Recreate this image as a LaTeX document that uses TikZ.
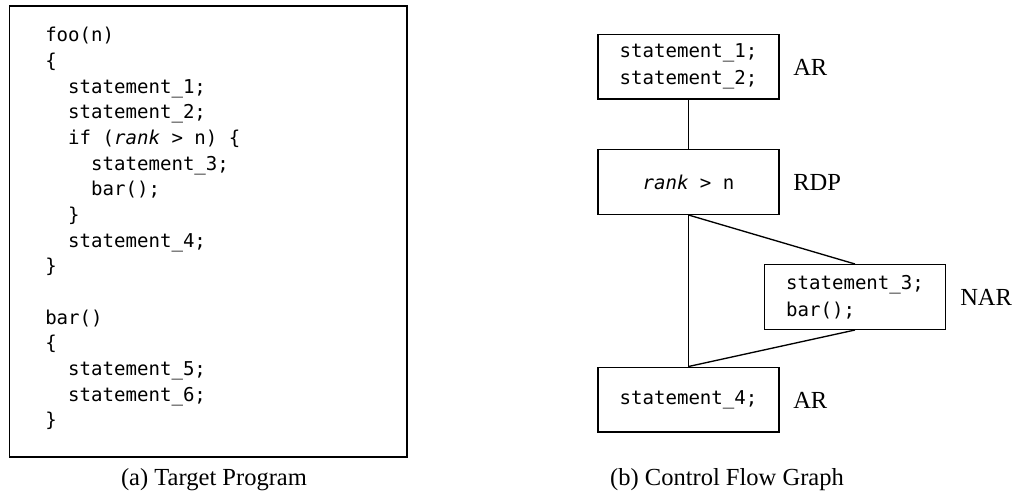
\documentclass[tikz,border=0pt]{standalone}
\usepackage{fontspec}
\setmainfont{Liberation Serif}
\setmonofont{DejaVu Sans Mono}
\begin{document}
\begin{tikzpicture}[x=0.75pt,y=-0.75pt,
 code/.style={anchor=base west, inner sep=0pt, font=\fontsize{14.3}{17}\ttfamily},
 blk/.style={draw, line width=1pt, minimum width=135.75pt, minimum height=48.5pt, inner sep=0pt, align=left, font=\fontsize{14.3}{20.25}\ttfamily},
 lbl/.style={anchor=west, inner sep=0pt, font=\fontsize{18.4}{22}\selectfont},
 captext/.style={inner sep=0pt, font=\fontsize{18.4}{22}\selectfont},
 edge/.style={line width=1pt}]
\useasboundingbox (0,0) rectangle (1016,493);
% left program box
\node[draw, line width=1.3pt, minimum width=298.1pt, minimum height=338.25pt, inner sep=0pt] (prog) at (208.25,231.5) {};
\node[code] (c0) at (45,41.7) {foo(n)};
\node[code] (c1) at (45,67.3) {\{};
\node[code] (c2) at (45,93) {\phantom{xx}statement\_1;};
\node[code] (c3) at (45,118.7) {\phantom{xx}statement\_2;};
\node[code] (c4) at (45,144.4) {\phantom{xx}if (\textit{rank} > n) \{};
\node[code] (c5) at (45,170) {\phantom{xxxx}statement\_3;};
\node[code] (c6) at (45,195.7) {\phantom{xxxx}bar();};
\node[code] (c7) at (45,221.4) {\phantom{xx}\}};
\node[code] (c8) at (45,247.1) {\phantom{xx}statement\_4;};
\node[code] (c9) at (45,272.7) {\}};
\node[code] (c11) at (45,324.1) {bar()};
\node[code] (c12) at (45,349.7) {\{};
\node[code] (c13) at (45,375.4) {\phantom{xx}statement\_5;};
\node[code] (c14) at (45,401.1) {\phantom{xx}statement\_6;};
\node[code] (c15) at (45,426.7) {\}};
\node[captext] (capa) at (214,480) {(a) Target Program};
% control flow graph
\node[blk] (b1) at (688.5,66.5) {statement\_1;\\statement\_2;};
\node[blk] (b2) at (688.5,182) {\textit{rank} > n};
\node[blk] (b3) at (855,297) {statement\_3;\\bar();};
\node[blk] (b4) at (688.5,399.5) {statement\_4;};
\node[lbl] (l1) at (793,67) {AR};
\node[lbl] (l2) at (793,182) {RDP};
\node[lbl] (l3) at (960,297) {NAR};
\node[lbl] (l4) at (793,400) {AR};
\node[captext] (capb) at (727,480) {(b) Control Flow Graph};
\draw[edge] (b1.south) -- (b2.north);
\draw[edge] (b2.south) -- (b4.north);
\draw[edge] (b2.south) -- (b3.north);
\draw[edge] (b3.south) -- (b4.north);
\end{tikzpicture}
\end{document}
